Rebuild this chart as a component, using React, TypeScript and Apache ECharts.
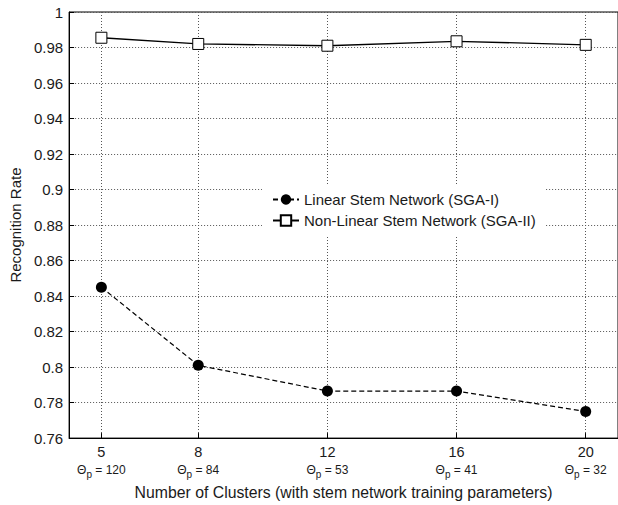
import React, { useEffect, useRef } from "react";
import * as echarts from "echarts";

const clusters = [5, 8, 12, 16, 20];
const thetaP = [120, 84, 53, 41, 32];
const linearSGA1 = [0.845, 0.801, 0.7865, 0.7865, 0.775];
const nonLinearSGA2 = [0.9855, 0.982, 0.981, 0.9835, 0.9815];
const axisMinX = 4;
const axisMaxX = 21;
const yTicks = { min: 0.76, max: 1, interval: 0.02 };

const FONT = "'Liberation Sans', Arial, sans-serif";
const TXT = "#1a1a1a";

export default function App() {
  const ref = useRef<HTMLDivElement>(null);
  useEffect(() => {
    if (!ref.current) return;
    const chart = echarts.init(ref.current, undefined, { renderer: "svg" });
    const xCats: string[] = [];
    for (let v = axisMinX; v <= axisMaxX; v++) xCats.push(String(v));
    const isShown = (value: string) => clusters.includes(Number(value));
    chart.setOption({
      animation: false,
      backgroundColor: "#fff",
      textStyle: { fontFamily: FONT, color: TXT },
      grid: {
        left: 67,
        right: -1,
        top: 12,
        bottom: 63,
        show: true,
        borderColor: "#000",
        borderWidth: 1,
        backgroundColor: "transparent",
      },
      legend: {
        left: 262,
        top: 185,
        orient: "vertical",
        backgroundColor: "#fff",
        padding: [7, 10, 7, 10],
        itemWidth: 26,
        itemHeight: 13,
        itemGap: 6,
        textStyle: { fontFamily: FONT, fontSize: 15, color: TXT },
        data: ["Linear Stem Network (SGA-I)", "Non-Linear Stem Network (SGA-II)"],
      },
      xAxis: {
        type: "category",
        boundaryGap: false,
        data: xCats,
        name: "Number of Clusters (with stem network training parameters)",
        nameLocation: "middle",
        nameGap: 43,
        nameTextStyle: { fontFamily: FONT, fontSize: 15.8, color: TXT },
        axisLine: { lineStyle: { color: "#000", width: 1 } },
        axisTick: {
          inside: true,
          length: 5,
          interval: (i: number, v: string) => isShown(v),
          lineStyle: { color: "#000" },
        },
        splitLine: {
          show: true,
          interval: (i: number, v: string) => isShown(v),
          lineStyle: { color: "#555", type: [1, 2], width: 1 },
        },
        axisLabel: {
          interval: (i: number, v: string) => isShown(v),
          margin: 5,
          formatter: (v: string) => {
            const idx = clusters.indexOf(Number(v));
            if (idx < 0) return "";
            return `{a|${v}}\n{t|Θ}{s|p}{t| = ${thetaP[idx]}}`;
          },
          rich: {
            a: { fontFamily: FONT, fontSize: 14.5, color: TXT, lineHeight: 18 },
            t: { fontFamily: FONT, fontSize: 12, color: TXT, lineHeight: 18 },
            s: { fontFamily: FONT, fontSize: 10, color: TXT, lineHeight: 10, verticalAlign: "bottom" },
          },
        },
      },
      yAxis: {
        type: "value",
        min: yTicks.min,
        max: yTicks.max,
        interval: yTicks.interval,
        name: "Recognition Rate",
        nameLocation: "middle",
        nameGap: 43,
        nameTextStyle: { fontFamily: FONT, fontSize: 15, color: TXT },
        axisLine: { show: true, lineStyle: { color: "#000", width: 1 } },
        axisTick: { show: true, inside: true, length: 5, lineStyle: { color: "#000" } },
        axisLabel: {
          margin: 6,
          fontFamily: FONT,
          fontSize: 15,
          color: TXT,
          formatter: (v: number) => String(Number(v.toFixed(2))),
        },
        splitLine: { show: true, lineStyle: { color: "#555", type: [1, 2], width: 1 } },
      },
      series: [
        {
          name: "Linear Stem Network (SGA-I)",
          type: "line",
          data: clusters.map((c, i) => [String(c), linearSGA1[i]]),
          symbol: "circle",
          symbolSize: 11,
          itemStyle: { color: "#000" },
          lineStyle: { color: "#000", width: 1.2, type: [5, 3] },
          z: 3,
        },
        {
          name: "Non-Linear Stem Network (SGA-II)",
          type: "line",
          data: clusters.map((c, i) => [String(c), nonLinearSGA2[i]]),
          symbol: "rect",
          symbolSize: 11,
          showAllSymbol: true,
          itemStyle: { color: "#fff", borderColor: "#000", borderWidth: 1 },
          lineStyle: { color: "#000", width: 1.3 },
          z: 3,
        },
      ],
    });
    return () => chart.dispose();
  }, []);
  return <div ref={ref} style={{ width: 618, height: 505, position: "absolute", left: 0, top: 0 }} />;
}
